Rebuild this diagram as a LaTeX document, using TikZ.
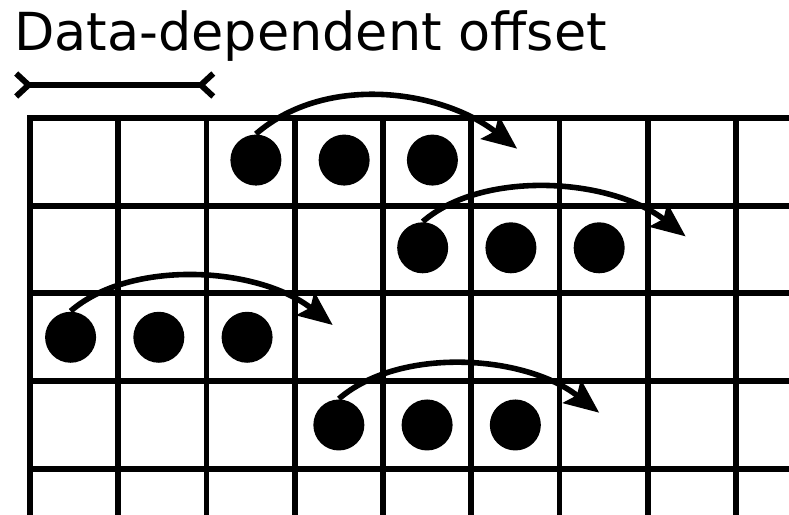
\documentclass[tikz,border=0pt]{standalone}
\usepackage{fontspec}
\setmainfont{DejaVu Sans}
\usetikzlibrary{arrows.meta,positioning}

\tikzset{
	gridline/.style={line width=1.9pt, line cap=rect},
	ball/.style={circle, fill=black, inner sep=0pt, minimum size=0.578cm},
	hop/.style={line width=1.8pt, -{Stealth[length=0.39cm,width=0.33cm,inset=0.07cm]},
		out=41, in=142, out distance=0.9cm, in distance=1.08cm},
	offsetbar/.style={line width=1.9pt,
		{Straight Barb[reversed,length=0.14cm,width=0.26cm]}-{Straight Barb[reversed,length=0.14cm,width=0.26cm]}}
}

\begin{document}
\begin{tikzpicture}[x=1cm, y=0.994cm, on grid, node distance=1cm]
	\useasboundingbox (-0.34,1.345) rectangle (8.601,-4.524);
	\node[anchor=base west, inner sep=0pt, font=\fontsize{16.9}{20}\selectfont] (title) at (-0.185,0.775) {Data-dependent offset};
	\coordinate (ol) at (-0.19,0.376);
	\coordinate (or) at (2.11,0.376);
	\draw[offsetbar] (ol) -- (or);
	
	\draw[gridline, step=1] (0,0) grid (8.61,-4.53);
	
	% first row
	\node[ball] (a1) at (2.56,-0.48) {};
	\node[ball, right=of a1] (a2) {};
	\node[ball, right=of a2] (a3) {};
	\coordinate (ta) at (5.52,-0.35);
	\draw[hop, out distance=1.05cm] (a1.north) to (ta);
	
	% second row
	\node[ball] (b1) at (4.45,-1.48) {};
	\node[ball, right=of b1] (b2) {};
	\node[ball, right=of b2] (b3) {};
	\coordinate (tb) at (7.43,-1.35);
	\draw[hop] (b1.north) to (tb);
	
	% third row
	\node[ball] (c1) at (0.46,-2.5) {};
	\node[ball, right=of c1] (c2) {};
	\node[ball, right=of c2] (c3) {};
	\coordinate (tc) at (3.43,-2.36);
	\draw[hop] (c1.north) to (tc);
	
	% fourth row
	\node[ball] (d1) at (3.5,-3.5) {};
	\node[ball, right=of d1] (d2) {};
	\node[ball, right=of d2] (d3) {};
	\coordinate (td) at (6.45,-3.36);
	\draw[hop] (d1.north) to (td);
\end{tikzpicture}
\end{document}
